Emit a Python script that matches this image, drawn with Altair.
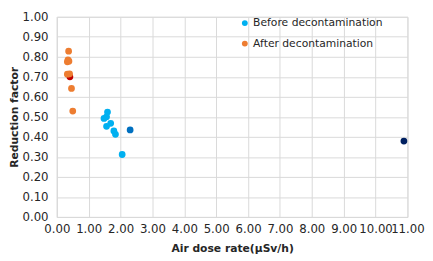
import altair as alt
import pandas as pd

# Before decontamination (light blue)
before_x = [1.59, 1.48, 1.56, 1.69, 1.56, 1.79, 1.84, 2.05]
before_y = [0.524, 0.492, 0.500, 0.468, 0.453, 0.430, 0.413, 0.312]
# After decontamination (orange)
after_x = [0.37, 0.35, 0.33, 0.38, 0.33, 0.40, 0.46, 0.50]
after_y = [0.828, 0.785, 0.775, 0.778, 0.713, 0.715, 0.642, 0.529]
# Highlighted points (not in legend)
special_x = [0.41, 2.30, 10.89]
special_y = [0.700, 0.435, 0.379]
special_color = ["#C00000", "#0070C0", "#002060"]

series_names = ["Before decontamination", "After decontamination"]
series_colors = ["#00B0F0", "#ED7D31"]

x_ticks = list(range(0, 12))
y_ticks = [i / 10 for i in range(11)]

main = pd.DataFrame({
    "x": before_x + after_x,
    "y": before_y + after_y,
    "series": [series_names[0]] * len(before_x) + [series_names[1]] * len(after_x),
})
special = pd.DataFrame({"x": special_x, "y": special_y, "c": special_color})

FONT = "DejaVu Sans"
grid = "#D9D9D9"
txt = "#262626"

xenc = alt.X("x:Q", title="Air dose rate(μSv/h)",
             scale=alt.Scale(domain=[0, 11], nice=False),
             axis=alt.Axis(values=x_ticks, format=".2f", labelOverlap=False,
                           labelFlush=False, tickSize=0, labelPadding=7, titlePadding=8,
                           labelFont=FONT, labelFontSize=12, labelColor=txt,
                           titleFont=FONT, titleFontSize=11, titleFontWeight="bold", titleColor=txt,
                           gridColor=grid, domainColor=grid))
yenc = alt.Y("y:Q", title="Reduction factor",
             scale=alt.Scale(domain=[0, 1], nice=False),
             axis=alt.Axis(values=y_ticks, format=".2f", labelOverlap=False,
                           labelFlush=False, tickSize=0, labelPadding=9, titlePadding=3,
                           labelFont=FONT, labelFontSize=12, labelColor=txt,
                           titleFont=FONT, titleFontSize=11, titleFontWeight="bold", titleColor=txt,
                           gridColor=grid, domainColor=grid))

sp = alt.Chart(special).mark_circle(size=48, opacity=1).encode(
    x=xenc, y=yenc, color=alt.Color("c:N", scale=None, legend=None)
)
pts = alt.Chart(main).mark_circle(size=48, opacity=1).encode(
    x=xenc, y=yenc,
    color=alt.Color("series:N", sort=series_names,
                    scale=alt.Scale(domain=series_names, range=series_colors),
                    legend=alt.Legend(title=None, orient="none", legendX=187, legendY=1,
                                      symbolType="circle", symbolSize=36, labelFontSize=11,
                                      labelFont=FONT, labelColor=txt, rowPadding=9,
                                      symbolOffset=0, labelOffset=3))
)

chart = alt.layer(sp, pts).resolve_scale(color="independent").properties(
    width=359, height=205, padding={"left": 0, "top": 0, "right": 0, "bottom": 0}
).configure_view(stroke=None).configure_axis(
    gridColor=grid, gridWidth=1, domainColor=grid, domainWidth=1,
).configure(background="white", font=FONT)

chart.save("out.html", embed_options={"renderer": "svg", "actions": False})
